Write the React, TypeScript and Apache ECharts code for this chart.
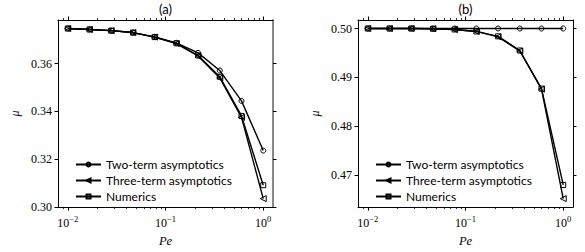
import React, { useEffect, useRef } from "react";
import * as echarts from "echarts";

// Péclet numbers (log-spaced)
const PE = [0.01, 0.01668, 0.02783, 0.04642, 0.07743, 0.1292, 0.2154, 0.3594, 0.5995, 1.0];

// Panel (a)
const A_TWO = [0.3747, 0.3743, 0.3738, 0.373, 0.3712, 0.3687, 0.3645, 0.3571, 0.3444, 0.3236];
const A_THREE = [0.3747, 0.3743, 0.3738, 0.373, 0.3711, 0.3684, 0.3632, 0.354, 0.3375, 0.3035];
const A_NUM = [0.3747, 0.3743, 0.3738, 0.373, 0.3711, 0.3685, 0.3634, 0.3545, 0.3381, 0.3091];

// Panel (b)
const B_TWO = [0.5, 0.5, 0.5, 0.5, 0.5, 0.5, 0.5, 0.5, 0.5, 0.5];
const B_THREE = [0.5, 0.5, 0.5, 0.49995, 0.4998, 0.4994, 0.4983, 0.4954, 0.4876, 0.4652];
const B_NUM = [0.5, 0.5, 0.5, 0.49995, 0.4998, 0.4994, 0.4984, 0.4955, 0.4877, 0.468];

const SERIES_NAMES = ["Two-term asymptotics", "Three-term asymptotics", "Numerics"];
const TITLES = ["(a)", "(b)"];

const X_MAJOR = [0.01, 0.1, 1];
const X_MINOR = [0.009, 0.02, 0.03, 0.04, 0.05, 0.06, 0.07, 0.08, 0.09, 0.2, 0.3, 0.4, 0.5, 0.6, 0.7, 0.8, 0.9];
const A_TICKS = [0.3, 0.32, 0.34, 0.36];
const B_TICKS = [0.47, 0.48, 0.49, 0.5];

const X_MIN = Math.pow(10, -2.1);
const X_MAX = Math.pow(10, 0.1);
const A_RANGE = [0.29994, 0.37826];
const B_RANGE = [0.46346, 0.50174];

const SERIF = "'Liberation Serif', 'DejaVu Serif', serif";
const SANS = "Lato, 'DejaVu Sans', sans-serif";

function expLabel(v: number) {
  const e = Math.round(Math.log10(v));
  const s = e < 0 ? "\u2212" + -e : String(e);
  return `{b|10}{s|${s}}`;
}

function xAxes(gi: number) {
  const base: any = {
    type: "log",
    logBase: 10,
    min: X_MIN,
    max: X_MAX,
    gridIndex: gi,
    splitLine: { show: false },
    axisLine: { show: false },
    axisLabel: { show: false },
  };
  const line = { show: true, onZero: false, lineStyle: { color: "#000", width: 1 } };
  return [
    {
      ...base,
      position: "bottom",
      axisLine: line,
      axisTick: { show: true, length: 3.5, customValues: X_MAJOR, lineStyle: { color: "#000", width: 1 } },
      axisLabel: {
        show: true,
        customValues: X_MAJOR,
        margin: 7,
        formatter: (v: number) => expLabel(v),
        rich: {
          b: { fontFamily: SERIF, fontSize: 12, color: "#000", verticalAlign: "bottom", lineHeight: 15 },
          s: { fontFamily: SERIF, fontSize: 8.5, color: "#000", verticalAlign: "top", lineHeight: 15 },
        },
      },
      name: "Pe",
      nameLocation: "middle",
      nameGap: 25,
      nameTextStyle: { fontFamily: SERIF, fontStyle: "italic", fontSize: 12.5, color: "#000" },
    },
    {
      ...base,
      position: "bottom",
      axisTick: { show: true, length: 2, customValues: X_MINOR, lineStyle: { color: "#000", width: 0.8 } },
    },
    {
      ...base,
      position: "top",
      axisLine: line,
      axisTick: { show: true, length: 3.5, customValues: X_MAJOR, lineStyle: { color: "#000", width: 1 } },
    },
    {
      ...base,
      position: "top",
      axisTick: { show: true, length: 2, customValues: X_MINOR, lineStyle: { color: "#000", width: 0.8 } },
    },
  ];
}

function yAxes(gi: number, range: number[], ticks: number[], rightColor: string, rightWidth: number) {
  return [
    {
      type: "value",
      gridIndex: gi,
      position: "left",
      min: range[0],
      max: range[1],
      splitLine: { show: false },
      axisLine: { show: true, onZero: false, lineStyle: { color: "#000", width: 1 } },
      axisTick: { show: true, length: 3.5, customValues: ticks, lineStyle: { color: "#000" } },
      axisLabel: {
        customValues: ticks,
        margin: 6,
        formatter: (v: number) => v.toFixed(2),
        fontFamily: SERIF,
        fontSize: 12,
        color: "#000",
      },
      name: "\u03bc",
      nameLocation: "middle",
      nameGap: 37,
      nameTextStyle: { fontFamily: SERIF, fontStyle: "italic", fontSize: 12, color: "#000" },
    },
    {
      type: "value",
      gridIndex: gi,
      position: "right",
      min: range[0],
      max: range[1],
      splitLine: { show: false },
      axisLine: { show: true, onZero: false, lineStyle: { color: rightColor, width: rightWidth } },
      axisTick: { show: true, length: 3.5, customValues: ticks, lineStyle: { color: "#000" } },
      axisLabel: { show: false },
    },
  ];
}

function seriesFor(gi: number, two: number[], three: number[], num: number[]) {
  const common: any = {
    type: "line",
    xAxisIndex: gi * 4,
    yAxisIndex: gi * 2,
    lineStyle: { color: "#000", width: 1.4 },
    itemStyle: { color: "rgba(255,255,255,0)", borderColor: "#000", borderWidth: 1 },
    emphasis: { disabled: true },
  };
  return [
    { ...common, name: SERIES_NAMES[0], symbol: "circle", symbolSize: 5, data: PE.map((x, i) => [x, two[i]]) },
    { ...common, name: SERIES_NAMES[1], symbol: "triangle", symbolRotate: 90, symbolSize: 6, data: PE.map((x, i) => [x, three[i]]) },
    { ...common, name: SERIES_NAMES[2], symbol: "rect", symbolSize: 5, data: PE.map((x, i) => [x, num[i]]) },
  ];
}

function legendFor(left: number) {
  return {
    orient: "vertical",
    left,
    top: 153,
    itemWidth: 25,
    itemHeight: 5,
    itemGap: 3,
    selectedMode: false,
    data: SERIES_NAMES,
    textStyle: { fontFamily: SANS, fontSize: 12, color: "#000", lineHeight: 13 },
  };
}

export default function App() {
  const ref = useRef<HTMLDivElement>(null);
  useEffect(() => {
    if (!ref.current) return;
    const chart = echarts.init(ref.current, null, { renderer: "svg" });
    chart.setOption({
      animation: false,
      backgroundColor: "#fff",
      grid: [
        { left: 58, top: 20, width: 215, height: 194, containLabel: false },
        { left: 358, top: 20, width: 215, height: 194, containLabel: false },
      ],
      xAxis: [...xAxes(0), ...xAxes(1)],
      yAxis: [...yAxes(0, A_RANGE, A_TICKS, "#888", 2), ...yAxes(1, B_RANGE, B_TICKS, "#000", 1)],
      legend: [legendFor(70), legendFor(370)],
      graphic: [
        { type: "text", x: 165.5, y: 2, style: { text: TITLES[0], textAlign: "center", fontFamily: SANS, fontSize: 13, fill: "#000" } },
        { type: "text", x: 465.5, y: 2, style: { text: TITLES[1], textAlign: "center", fontFamily: SANS, fontSize: 13, fill: "#000" } },
      ],
      series: [...seriesFor(0, A_TWO, A_THREE, A_NUM), ...seriesFor(1, B_TWO, B_THREE, B_NUM)],
    });
    return () => chart.dispose();
  }, []);
  return <div ref={ref} style={{ width: 585, height: 252, position: "absolute", left: 0, top: 0 }} />;
}
